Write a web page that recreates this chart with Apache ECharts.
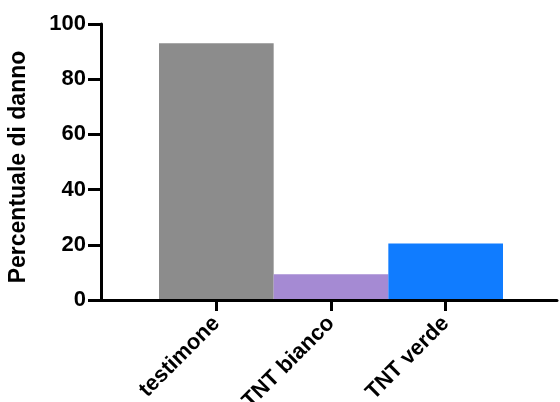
<!DOCTYPE html>
<html>
<head>
<meta charset="utf-8">
<script src="https://cdn.jsdelivr.net/npm/echarts@6/dist/echarts.min.js"></script>
<style>
html,body{margin:0;padding:0;background:#fff;}
#chart{width:560px;height:402px;}
</style>
</head>
<body>
<div id="chart"></div>
<script>
const categories = ['testimone', 'TNT bianco', 'TNT verde'];
const values = [93, 9.3, 20.5];
const barColors = ['#8c8c8c', '#a58ad3', '#107cff'];
const yTicks = [0, 20, 40, 60, 80, 100];
const yTitle = 'Percentuale di danno';

const FONT = '"Liberation Sans", Arial, Helvetica, sans-serif';
const chart = echarts.init(document.getElementById('chart'), null, {renderer: 'canvas'});
const gridTop = 24, gridBottom = 102;
chart.setOption({
  animation: false,
  backgroundColor: '#ffffff',
  grid: [
    {left: 101, right: 3, top: gridTop, bottom: gridBottom, outerBoundsMode: 'none', containLabel: false},
    {left: 159, right: 57, top: gridTop, bottom: gridBottom, outerBoundsMode: 'none', containLabel: false}
  ],
  xAxis: [
    {
      type: 'value', gridIndex: 0, min: 0, max: 1, z: 5,
      axisLine: {show: true, onZero: false, lineStyle: {color: '#000', width: 3}},
      axisTick: {show: false}, axisLabel: {show: false}, splitLine: {show: false}
    },
    {
      type: 'category', gridIndex: 1, data: categories, z: 5,
      axisLine: {show: true, lineStyle: {color: 'rgba(0,0,0,0)', width: 3}},
      axisTick: {show: true, alignWithLabel: true, length: 11, lineStyle: {color: '#000', width: 3}},
      axisLabel: {rotate: 45, margin: 20, color: '#000', fontFamily: FONT, fontWeight: 'bold', fontSize: 22, interval: 0},
      splitLine: {show: false}
    }
  ],
  yAxis: [
    {
      type: 'value', gridIndex: 0, min: yTicks[0], max: yTicks[yTicks.length - 1], interval: yTicks[1] - yTicks[0], z: 5,
      name: yTitle, nameLocation: 'middle', nameGap: 71, nameRotate: 90,
      nameTextStyle: {color: '#000', fontFamily: FONT, fontWeight: 'bold', fontSize: 23, padding: [0, 10, 0, 0]},
      axisLine: {show: true, lineStyle: {color: '#000', width: 3}},
      axisTick: {show: true, length: 13, lineStyle: {color: '#000', width: 3}},
      axisLabel: {margin: 15, color: '#000', fontFamily: FONT, fontWeight: 'bold', fontSize: 22},
      splitLine: {show: false}
    },
    {
      type: 'value', gridIndex: 1, min: yTicks[0], max: yTicks[yTicks.length - 1], show: false
    }
  ],
  series: [{
    type: 'bar', xAxisIndex: 1, yAxisIndex: 1, z: 2,
    barCategoryGap: 0, barGap: 0,
    data: values.map((v, i) => ({value: v, itemStyle: {color: barColors[i]}}))
  }]
});
</script>
</body>
</html>
